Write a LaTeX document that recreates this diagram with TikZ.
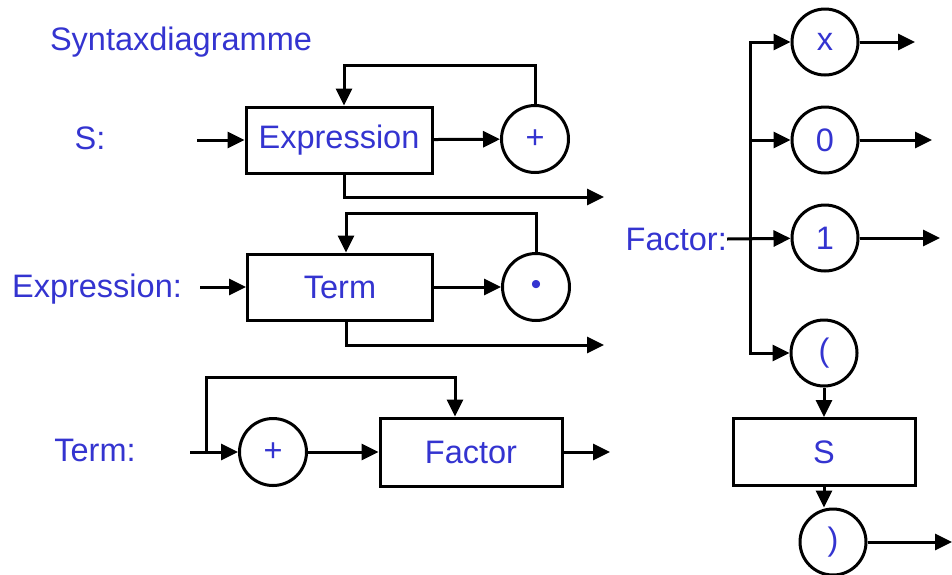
\documentclass[tikz,border=0pt]{standalone}
\usepackage{fontspec}
\setmainfont{Liberation Sans}
\usetikzlibrary{arrows.meta}
\definecolor{txtblue}{RGB}{52,52,208}
\begin{document}
\begin{tikzpicture}[x=1pt,y=-1pt,
  every node/.style={text=txtblue,font=\fontsize{32.5}{38}\selectfont},
  lbl/.style={inner sep=0pt},
  box/.style={draw=black,line width=3pt,rectangle,minimum width=184pt,minimum height=66pt,inner sep=0pt},
  circ/.style={draw=black,line width=3pt,circle,minimum size=67pt,inner sep=0pt},
  ln/.style={draw=black,line width=3pt},
  arr/.style={ln,-{Triangle[length=17pt,width=16pt]}}]
\useasboundingbox (0,0) rectangle (952,574);
% title and labels
\node[lbl] (title) at (181,42) {Syntaxdiagramme};
\node[lbl] (lblS) at (90,138) {S:};
\node[lbl] (lblE) at (97,289) {Expression:};
\node[lbl] (lblT) at (95,450) {Term:};
\node[lbl,anchor=east] (lblF) at (727,239) {Factor:};
% row 1
\node[box,minimum width=186pt] (expr) at (339,140) {Expression};
\node[circ] (plus1) at (535,139) {+};
\coordinate (sin) at (197,140);
\coordinate (l1) at (344,65);
\coordinate (o1) at (604,197);
\draw[arr] (sin) -- (expr);
\draw[arr] (expr) -- (plus1);
\draw[arr] (plus1.north) |- (l1) -- (l1 |- expr.north);
\draw[arr] (l1 |- expr.south) |- (o1);
% row 2
\node[box,minimum width=185pt] (term) at (340,287) {Term};
\node[circ] (dot) at (536,287) {\fontsize{30}{30}\selectfont •};
\coordinate (ein) at (200,287);
\coordinate (l2) at (346,213);
\coordinate (o2) at (604,345);
\draw[arr] (ein) -- (term);
\draw[arr] (term) -- (dot);
\draw[arr] (dot.north) |- (l2) -- (l2 |- term.north);
\draw[arr] (l2 |- term.south) |- (o2);
% row 3
\node[circ] (plus3) at (273,452) {+};
\node[box,minimum width=182pt,minimum height=68pt] (factor) at (471,452) {Factor};
\coordinate (tin) at (190,452);
\coordinate (tb) at (206,452);
\coordinate (tl) at (455,377);
\coordinate (o3) at (610,452);
\draw[arr] (tin) -- (plus3);
\draw[arr] (tb) |- (tl) -- (tl |- factor.north);
\draw[arr] (plus3) -- (factor);
\draw[arr] (factor) -- (o3);
% factor
\node[circ,minimum size=66pt] (cx) at (825,42) {x};
\node[circ,minimum size=66pt] (c0) at (825,140) {0};
\node[circ,minimum size=66pt] (c1) at (825,238) {1};
\node[circ,minimum size=66pt] (clp) at (824,353) {(};
\node[box,minimum width=182pt,minimum height=67pt] (S) at (824,452) {S};
\node[circ,minimum size=66pt] (crp) at (833,542) {)};
\coordinate (jtop) at (750,42);
\coordinate (jbot) at (750,353);
\draw[arr] (jbot) |- (cx);
\draw[arr] (jtop) |- (clp);
\draw[arr] (jtop |- c0) -- (c0);
\draw[arr] (lblF.east) -- (c1);
\draw[arr] (cx.east) -- (915,42);
\draw[arr] (c0.east) -- (932,140);
\draw[arr] (c1.east) -- (940,238);
\draw[arr] (clp) -- (S);
\draw[arr] (S.south) -- (S.south |- crp.north);
\draw[arr] (crp.east) -- (952,542);
\end{tikzpicture}
\end{document}
